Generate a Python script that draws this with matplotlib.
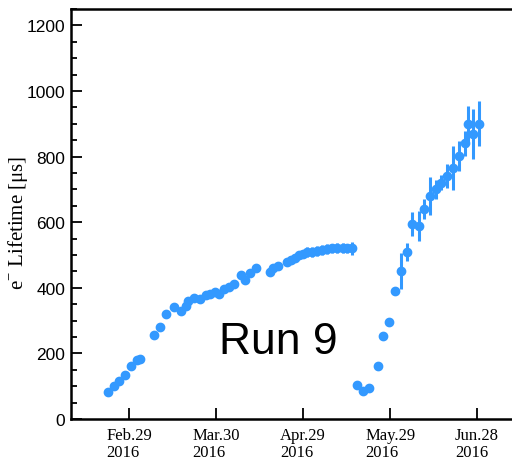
import matplotlib
matplotlib.use("Agg")
import matplotlib.pyplot as plt
from matplotlib.ticker import MultipleLocator, FixedLocator

# Days since 2016-02-29 and electron lifetime values (us)
days = [-7.4, -5.4, -3.5, -1.4, 0.7, 2.6, 3.8, 8.6, 10.7, 12.6, 15.6, 17.8, 19.7, 20.3,
        22.2, 24.6, 26.5, 28.0, 29.7, 31.0, 32.7, 34.5, 36.3, 38.5, 39.8, 41.6, 43.7,
        48.6, 49.7, 51.2, 54.5, 55.8, 57.2, 58.5, 59.8, 61.5, 63.2, 64.9, 66.6, 68.4,
        70.1, 71.8, 73.6, 75.3, 76.8,
        78.7, 80.6, 82.7, 85.7, 87.7, 89.7, 91.6, 93.7, 95.7, 97.6, 99.8, 101.7, 103.7,
        105.7, 107.7, 109.7, 111.8, 113.8, 115.7, 116.8, 118.7, 120.8]
lifetime = [83, 101, 117, 134, 161, 180, 183, 257, 279, 319, 340, 328, 345, 360,
            368, 365, 377, 381, 388, 382, 397, 402, 412, 438, 423, 444, 460,
            449, 459, 467, 479, 486, 492, 500, 504, 508, 510, 513, 515, 518,
            520, 521, 521, 520, 520,
            105, 86, 94, 162, 252, 296, 389, 450, 510, 595, 588, 640, 680,
            700, 721, 740, 766, 801, 840, 900, 870, 900]
errors = [0, 0, 0, 0, 0, 0, 0, 0, 0, 0, 0, 0, 0, 0,
          0, 0, 0, 0, 0, 0, 0, 0, 0, 0, 0, 0, 0,
          0, 0, 0, 0, 0, 0, 0, 12, 15, 15, 15, 15, 15,
          15, 15, 15, 15, 20,
          0, 0, 0, 0, 0, 0, 0, 55, 27, 37, 46, 30, 58,
          30, 24, 37, 67, 46, 37, 54, 76, 68]

tick_days = [0, 30, 60, 90, 120]
tick_labels = ["Feb.29\n2016", "Mar.30\n2016", "Apr.29\n2016", "May.29\n2016", "Jun.28\n2016"]

color = "#3399FF"

fig = plt.figure(figsize=(5.12, 4.6), dpi=100)
ax = fig.add_axes([71/512, 40/460, 1 - 71/512 + 0.002, 410/460])

ax.errorbar(days, lifetime, yerr=errors, fmt='o', color=color, ms=6,
            elinewidth=2.2, capsize=0, mec=color, mfc=color, zorder=3)

ax.set_xlim(-20.06, 132.4)
ax.set_ylim(0, 1250)

ax.xaxis.set_major_locator(FixedLocator(tick_days))
ax.set_xticklabels(tick_labels, family="Liberation Serif", fontsize=12, linespacing=1.05)
for lbl in ax.get_xticklabels():
    lbl.set_multialignment('left')
ax.yaxis.set_major_locator(MultipleLocator(200))
ax.yaxis.set_minor_locator(MultipleLocator(50))
for lbl in ax.get_yticklabels():
    lbl.set_family("Liberation Sans")
    lbl.set_fontsize(12.5)

ax.tick_params(axis='both', which='major', direction='in', length=8, width=1.3, pad=4)
ax.tick_params(axis='y', which='minor', direction='in', length=4, width=1.3)
ax.tick_params(axis='x', which='major', pad=6)

for s in ['left', 'bottom', 'top']:
    ax.spines[s].set_linewidth(1.8)
ax.spines['right'].set_visible(False)

ax.set_ylabel(r"e$^{\mathregular{-}}$ Lifetime [$\mathregular{\mu}$s]", family="Liberation Serif",
              fontsize=15)
ax.yaxis.set_label_coords((30 - 71) / 442, 0.48)

fig.text(278/512, 1 - 343/460, "Run 9", family="Liberation Sans", fontsize=32,
         ha='center', va='center')

fig.savefig("out.png", dpi=100)
